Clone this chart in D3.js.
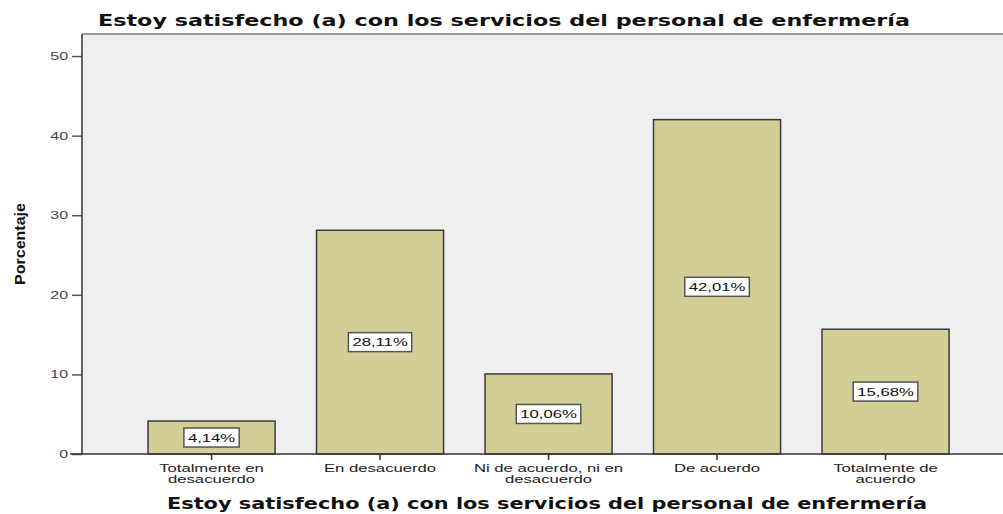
<!DOCTYPE html>
<html><head><meta charset="utf-8">
<script src="https://cdn.jsdelivr.net/npm/d3@7"></script>
<style>
body{margin:0;background:#fff;}
svg{display:block;}
</style></head>
<body><svg id="chart" width="1003" height="514"></svg>
<script>
const categories = ["Totalmente en desacuerdo","En desacuerdo","Ni de acuerdo, ni en desacuerdo","De acuerdo","Totalmente de acuerdo"];
const categoryLines = [["Totalmente en","desacuerdo"],["En desacuerdo"],["Ni de acuerdo, ni en","desacuerdo"],["De acuerdo"],["Totalmente de","acuerdo"]];
const values = [4.14, 28.11, 10.06, 42.01, 15.68];
const valueLabels = ["4,14%","28,11%","10,06%","42,01%","15,68%"];
const yTicks = [0,10,20,30,40,50];
const title = "Estoy satisfecho (a) con los servicios del personal de enfermería";
const xTitle = "Estoy satisfecho (a) con los servicios del personal de enfermería";
const yTitle = "Porcentaje";

const FONT = "Arial, 'Liberation Sans', sans-serif";
const STRETCH = 1.45;
function stretch(sel){
  sel.each(function(){
    const w = this.getComputedTextLength();
    d3.select(this).attr("textLength", w*STRETCH).attr("lengthAdjust","spacingAndGlyphs");
  });
}

const svg = d3.select("#chart");
const plotL = 82, plotT = 34, plotB = 454, plotR = 1010;

const y = d3.scaleLinear().domain([0, 52.77]).range([plotB, plotT]);
const x = d3.scaleBand().domain(categories).range([127.3, 969.8]).paddingInner(0.246).paddingOuter(0.123);

// background
svg.append("rect").attr("x", plotL).attr("y", plotT).attr("width", plotR - plotL).attr("height", plotB - plotT).attr("fill", "#efefef");
svg.append("line").attr("x1", plotL).attr("x2", plotR).attr("y1", plotT).attr("y2", plotT).attr("stroke", "#9a9a9a").attr("stroke-width", 2);

// bars
svg.selectAll("rect.bar").data(values).enter().append("rect").attr("class","bar")
  .attr("x", (d,i) => x(categories[i]))
  .attr("y", d => y(d))
  .attr("width", x.bandwidth())
  .attr("height", d => plotB - y(d))
  .attr("fill", "#d3ce96")
  .attr("stroke", "#3a3a3a").attr("stroke-width", 1.5);

// value labels
const lbl = svg.selectAll("g.vl").data(values).enter().append("g").attr("class","vl")
  .attr("transform", (d,i) => `translate(${x(categories[i]) + x.bandwidth()/2},${(y(d)+plotB)/2})`);
lbl.each(function(d,i){
  const g = d3.select(this);
  const t = g.append("text").attr("text-anchor","middle").attr("dy","0.36em")
    .attr("font-family",FONT).attr("font-size", 11.5).attr("fill","#111")
    .text(valueLabels[i]);
  const w = t.node().getComputedTextLength()*STRETCH;
  t.attr("textLength", w).attr("lengthAdjust","spacingAndGlyphs");
  g.insert("rect","text").attr("x", -w/2 - 4).attr("y", -9.5).attr("width", w + 8).attr("height", 19)
    .attr("fill","#fff").attr("stroke","#555").attr("stroke-width",1.5);
});

// y axis
const yAxis = d3.axisLeft(y).tickValues(yTicks).tickSize(10).tickPadding(4).tickFormat(d3.format("d"));
const ya = svg.append("g").attr("transform", `translate(${plotL},0)`).call(yAxis);
ya.select(".domain").remove();
ya.selectAll(".tick line").attr("stroke","#555").attr("stroke-width",1.5);
ya.selectAll(".tick text").attr("font-family",FONT).attr("font-size",11).attr("fill","#444").call(stretch);
svg.append("line").attr("x1",plotL).attr("x2",plotL).attr("y1",plotT).attr("y2",plotB).attr("stroke","#333").attr("stroke-width",1.5);

// x axis
const xAxis = d3.axisBottom(x).tickSize(6).tickFormat("");
const xa = svg.append("g").attr("transform", `translate(0,${plotB})`).call(xAxis);
xa.select(".domain").remove();
xa.selectAll(".tick line").attr("stroke","#333").attr("stroke-width",1.5);
svg.append("line").attr("x1",plotL-12).attr("x2",plotR).attr("y1",plotB).attr("y2",plotB).attr("stroke","#333").attr("stroke-width",1.5);

// category labels
categories.forEach((c,i) => {
  const cx = x(c) + x.bandwidth()/2;
  categoryLines[i].forEach((ln,j) => {
    svg.append("text").attr("text-anchor","middle")
      .attr("font-family",FONT).attr("font-size",11.5).attr("fill","#222")
      .attr("x", cx).attr("y", 472 + j*10.5).text(ln).call(stretch);
  });
});

// titles
svg.append("text").attr("x", 98).attr("y", 26)
  .attr("font-family","'DejaVu Sans', Verdana, sans-serif").attr("font-weight","bold").attr("font-size",15)
  .attr("textLength", 812).attr("lengthAdjust","spacingAndGlyphs").attr("fill","#111")
  .text(title);
svg.append("text").attr("x", 167).attr("y", 509)
  .attr("font-family","'DejaVu Sans', Verdana, sans-serif").attr("font-weight","bold").attr("font-size",15)
  .attr("textLength", 760).attr("lengthAdjust","spacingAndGlyphs").attr("fill","#111")
  .text(xTitle);
svg.append("text").attr("transform","translate(25,244) rotate(-90)").attr("text-anchor","middle")
  .attr("font-family","'Liberation Sans Narrow', 'Liberation Sans', Arial, sans-serif").attr("font-weight","bold").attr("font-size",15)
  .attr("textLength", 82).attr("lengthAdjust","spacingAndGlyphs").attr("fill","#111")
  .text(yTitle);
</script>
</body></html>
